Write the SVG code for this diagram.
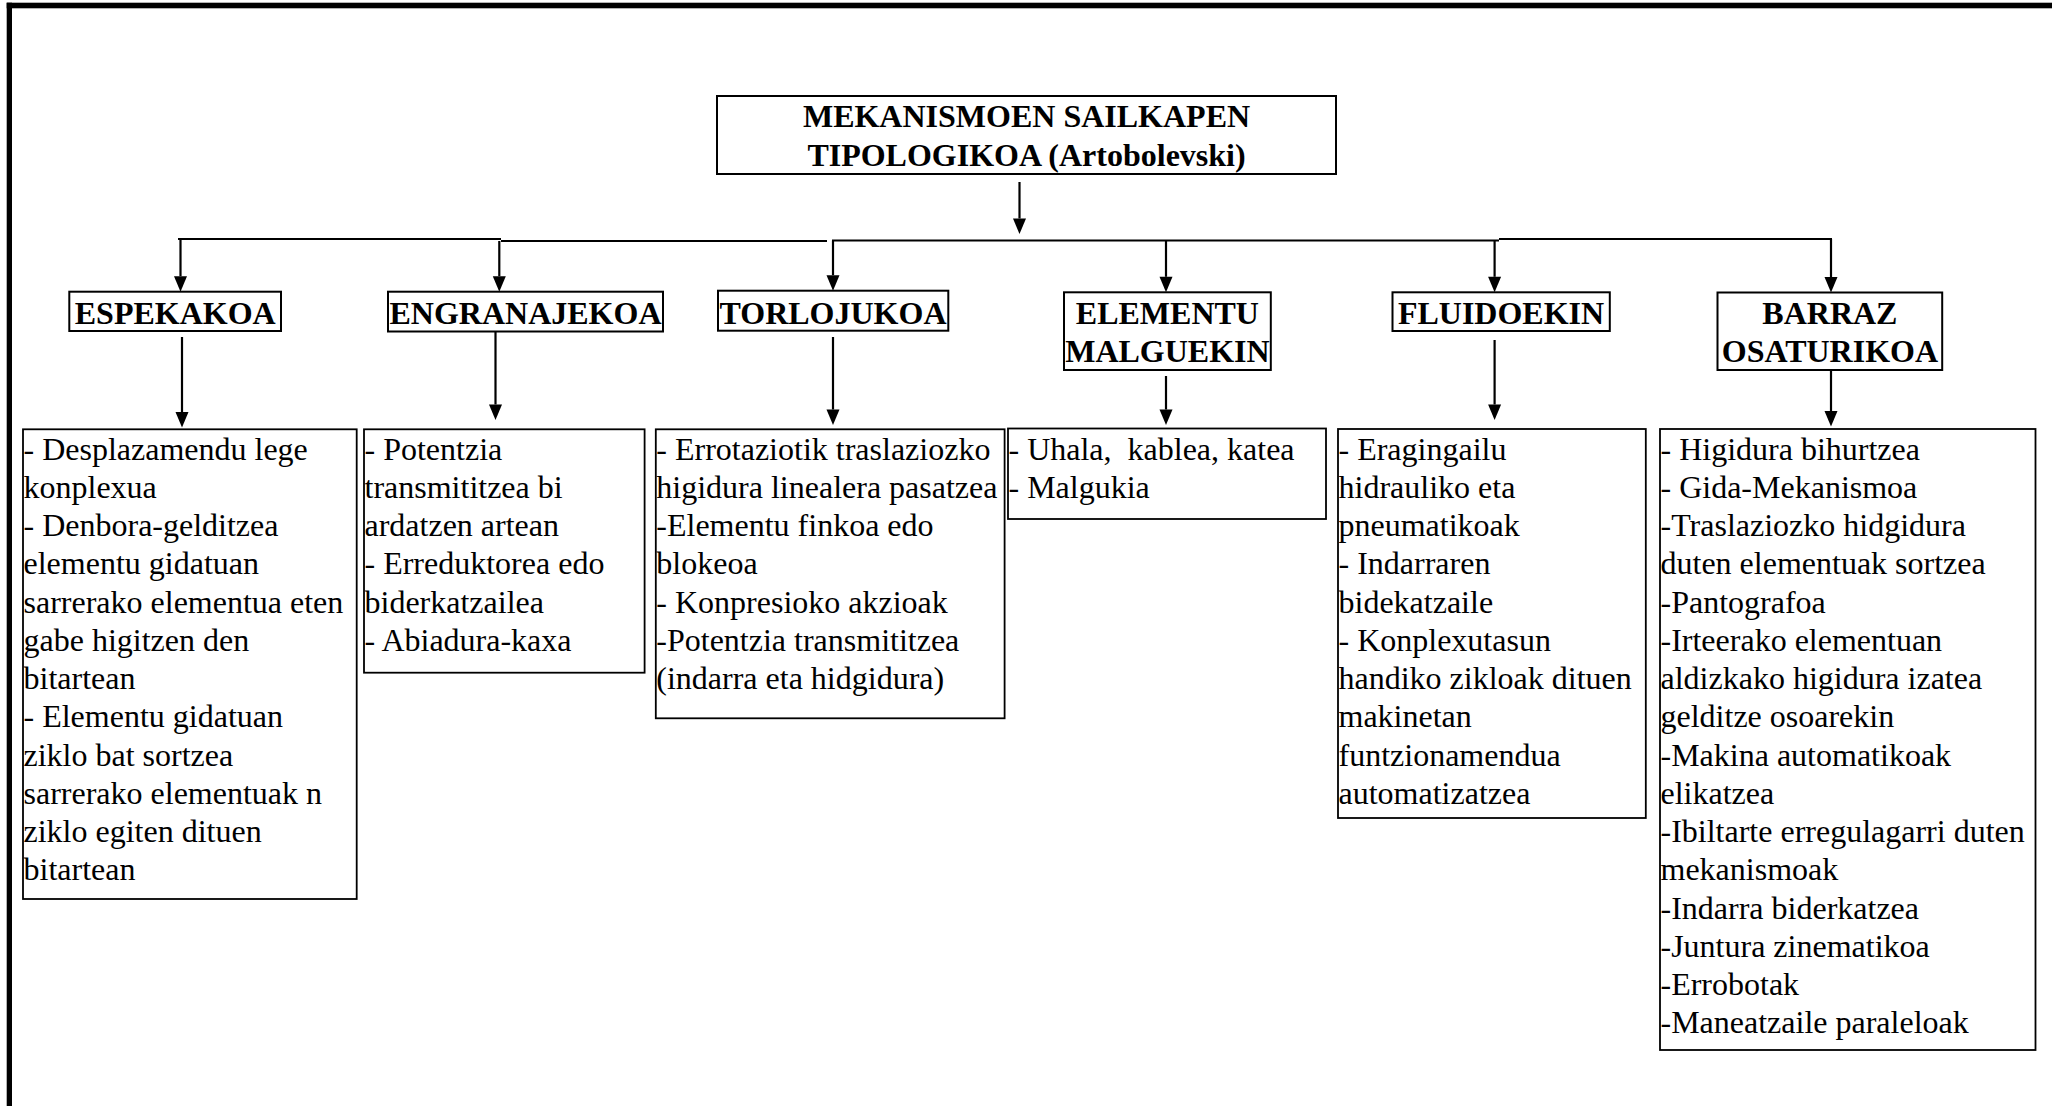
<svg xmlns="http://www.w3.org/2000/svg" width="2052" height="1106" viewBox="0 0 2052 1106">
<style>
.bx{fill:#fff;stroke:#000;stroke-width:2}
.cb{fill:#fff;stroke:#000;stroke-width:1.8}
.hd{font-family:"Liberation Serif","Times New Roman",serif;font-weight:bold;font-size:32px;fill:#000;text-anchor:middle}
.tx{font-family:"Liberation Serif","Times New Roman",serif;font-size:32px;fill:#000}
.ln{stroke:#000;stroke-width:2.2;fill:none}
</style>
<defs>
<marker id="ah" markerUnits="userSpaceOnUse" viewBox="0 -7 16 14" markerWidth="16" markerHeight="14" refX="0" refY="0" orient="auto" overflow="visible">
<path d="M0,-6.5 L15.5,0 L0,6.5 z" fill="#000"/>
</marker>
</defs>
<rect width="2052" height="1106" fill="#fff"/>
<g id="frame">
<rect x="6.7" y="2.7" width="2045.3" height="5.6" fill="#000"/>
<rect x="6.7" y="2.7" width="5.3" height="1103.3" fill="#000"/>
</g>
<g id="connectors">
<line class="ln" x1="1019.5" y1="182" x2="1019.5" y2="218.5" marker-end="url(#ah)"/>
<path class="ln" d="M178,239 H501 M501,241 H827 M832,240.5 H1499 M1499,239 H1832"/>
<line class="ln" x1="180.5" y1="239" x2="180.5" y2="276.2" marker-end="url(#ah)"/>
<line class="ln" x1="499.3" y1="241" x2="499.3" y2="276.2" marker-end="url(#ah)"/>
<line class="ln" x1="833" y1="240.5" x2="833" y2="275.2" marker-end="url(#ah)"/>
<line class="ln" x1="1166" y1="240.5" x2="1166" y2="276.8" marker-end="url(#ah)"/>
<line class="ln" x1="1494.6" y1="240.5" x2="1494.6" y2="276.8" marker-end="url(#ah)"/>
<line class="ln" x1="1831" y1="239" x2="1831" y2="277" marker-end="url(#ah)"/>
<line class="ln" x1="182" y1="337" x2="182" y2="412" marker-end="url(#ah)"/>
<line class="ln" x1="495.5" y1="331.5" x2="495.5" y2="404.5" marker-end="url(#ah)"/>
<line class="ln" x1="833" y1="337" x2="833" y2="409.5" marker-end="url(#ah)"/>
<line class="ln" x1="1166" y1="376" x2="1166" y2="409.5" marker-end="url(#ah)"/>
<line class="ln" x1="1494.6" y1="340" x2="1494.6" y2="404.5" marker-end="url(#ah)"/>
<line class="ln" x1="1831" y1="370.5" x2="1831" y2="411" marker-end="url(#ah)"/>
</g>
<g id="title">
<rect class="bx" x="717" y="96" width="619" height="78"/>
<text class="hd" x="1026.5" y="127">MEKANISMOEN SAILKAPEN</text>
<text class="hd" x="1026.5" y="166">TIPOLOGIKOA (Artobolevski)</text>
</g>
<g id="espekakoa">
<rect class="bx" x="69.3" y="291.7" width="211.7" height="39.3"/>
<text class="hd" x="175.2" y="324">ESPEKAKOA</text>
</g>
<g id="engranajekoa">
<rect class="bx" x="388" y="291.7" width="275" height="39.8"/>
<text class="hd" x="525.5" y="324">ENGRANAJEKOA</text>
</g>
<g id="torlojukoa">
<rect class="bx" x="718" y="290.7" width="230.3" height="40"/>
<text class="hd" x="833" y="323.5">TORLOJUKOA</text>
</g>
<g id="elementu-malguekin">
<rect class="bx" x="1064" y="292.3" width="206.8" height="77.7"/>
<text class="hd" x="1167.4" y="324">ELEMENTU</text>
<text class="hd" x="1167.4" y="362.3">MALGUEKIN</text>
</g>
<g id="fluidoekin">
<rect class="bx" x="1392.5" y="292.3" width="217.3" height="38.7"/>
<text class="hd" x="1501" y="324">FLUIDOEKIN</text>
</g>
<g id="barraz-osaturikoa">
<rect class="bx" x="1717.5" y="292.5" width="224.7" height="77.5"/>
<text class="hd" x="1829.9" y="324">BARRAZ</text>
<text class="hd" x="1829.9" y="362.3">OSATURIKOA</text>
</g>
<g id="espekakoa-list">
<rect class="cb" x="23" y="429.3" width="333.7" height="469.7"/>
<text class="tx" x="23.5" y="459.5"><tspan x="23.5">- Desplazamendu lege</tspan><tspan x="23.5" dy="38.25">konplexua</tspan><tspan x="23.5" dy="38.25">- Denbora-gelditzea</tspan><tspan x="23.5" dy="38.25">elementu gidatuan</tspan><tspan x="23.5" dy="38.25">sarrerako elementua eten</tspan><tspan x="23.5" dy="38.25">gabe higitzen den</tspan><tspan x="23.5" dy="38.25">bitartean</tspan><tspan x="23.5" dy="38.25">- Elementu gidatuan</tspan><tspan x="23.5" dy="38.25">ziklo bat sortzea</tspan><tspan x="23.5" dy="38.25">sarrerako elementuak n</tspan><tspan x="23.5" dy="38.25">ziklo egiten dituen</tspan><tspan x="23.5" dy="38.25">bitartean</tspan></text>
</g>
<g id="engranajekoa-list">
<rect class="cb" x="364" y="429.3" width="280.6" height="243.4"/>
<text class="tx" x="364.5" y="459.5"><tspan x="364.5">- Potentzia</tspan><tspan x="364.5" dy="38.25">transmititzea bi</tspan><tspan x="364.5" dy="38.25">ardatzen artean</tspan><tspan x="364.5" dy="38.25">- Erreduktorea edo</tspan><tspan x="364.5" dy="38.25">biderkatzailea</tspan><tspan x="364.5" dy="38.25">- Abiadura-kaxa</tspan></text>
</g>
<g id="torlojukoa-list">
<rect class="cb" x="655.8" y="429.3" width="348.8" height="289"/>
<text class="tx" x="656.3" y="459.5"><tspan x="656.3">- Errotaziotik traslaziozko</tspan><tspan x="656.3" dy="38.25">higidura linealera pasatzea</tspan><tspan x="656.3" dy="38.25">-Elementu finkoa edo</tspan><tspan x="656.3" dy="38.25">blokeoa</tspan><tspan x="656.3" dy="38.25">- Konpresioko akzioak</tspan><tspan x="656.3" dy="38.25">-Potentzia transmititzea</tspan><tspan x="656.3" dy="38.25">(indarra eta hidgidura)</tspan></text>
</g>
<g id="elementu-malguekin-list">
<rect class="cb" x="1008" y="428.5" width="318" height="90.5"/>
<text class="tx" x="1008.5" y="459.5" xml:space="preserve"><tspan x="1008.5">- Uhala,  kablea, katea</tspan><tspan x="1008.5" dy="38.25">- Malgukia</tspan></text>
</g>
<g id="fluidoekin-list">
<rect class="cb" x="1338" y="429" width="307.8" height="389"/>
<text class="tx" x="1338.5" y="459.5"><tspan x="1338.5">- Eragingailu</tspan><tspan x="1338.5" dy="38.25">hidrauliko eta</tspan><tspan x="1338.5" dy="38.25">pneumatikoak</tspan><tspan x="1338.5" dy="38.25">- Indarraren</tspan><tspan x="1338.5" dy="38.25">bidekatzaile</tspan><tspan x="1338.5" dy="38.25">- Konplexutasun</tspan><tspan x="1338.5" dy="38.25">handiko zikloak dituen</tspan><tspan x="1338.5" dy="38.25">makinetan</tspan><tspan x="1338.5" dy="38.25">funtzionamendua</tspan><tspan x="1338.5" dy="38.25">automatizatzea</tspan></text>
</g>
<g id="barraz-osaturikoa-list">
<rect class="cb" x="1660" y="429" width="375.5" height="621"/>
<text class="tx" x="1660.5" y="459.5"><tspan x="1660.5">- Higidura bihurtzea</tspan><tspan x="1660.5" dy="38.25">- Gida-Mekanismoa</tspan><tspan x="1660.5" dy="38.25">-Traslaziozko hidgidura</tspan><tspan x="1660.5" dy="38.25">duten elementuak sortzea</tspan><tspan x="1660.5" dy="38.25">-Pantografoa</tspan><tspan x="1660.5" dy="38.25">-Irteerako elementuan</tspan><tspan x="1660.5" dy="38.25">aldizkako higidura izatea</tspan><tspan x="1660.5" dy="38.25">gelditze osoarekin</tspan><tspan x="1660.5" dy="38.25">-Makina automatikoak</tspan><tspan x="1660.5" dy="38.25">elikatzea</tspan><tspan x="1660.5" dy="38.25">-Ibiltarte erregulagarri duten</tspan><tspan x="1660.5" dy="38.25">mekanismoak</tspan><tspan x="1660.5" dy="38.25">-Indarra biderkatzea</tspan><tspan x="1660.5" dy="38.25">-Juntura zinematikoa</tspan><tspan x="1660.5" dy="38.25">-Errobotak</tspan><tspan x="1660.5" dy="38.25">-Maneatzaile paraleloak</tspan></text>
</g>
</svg>
